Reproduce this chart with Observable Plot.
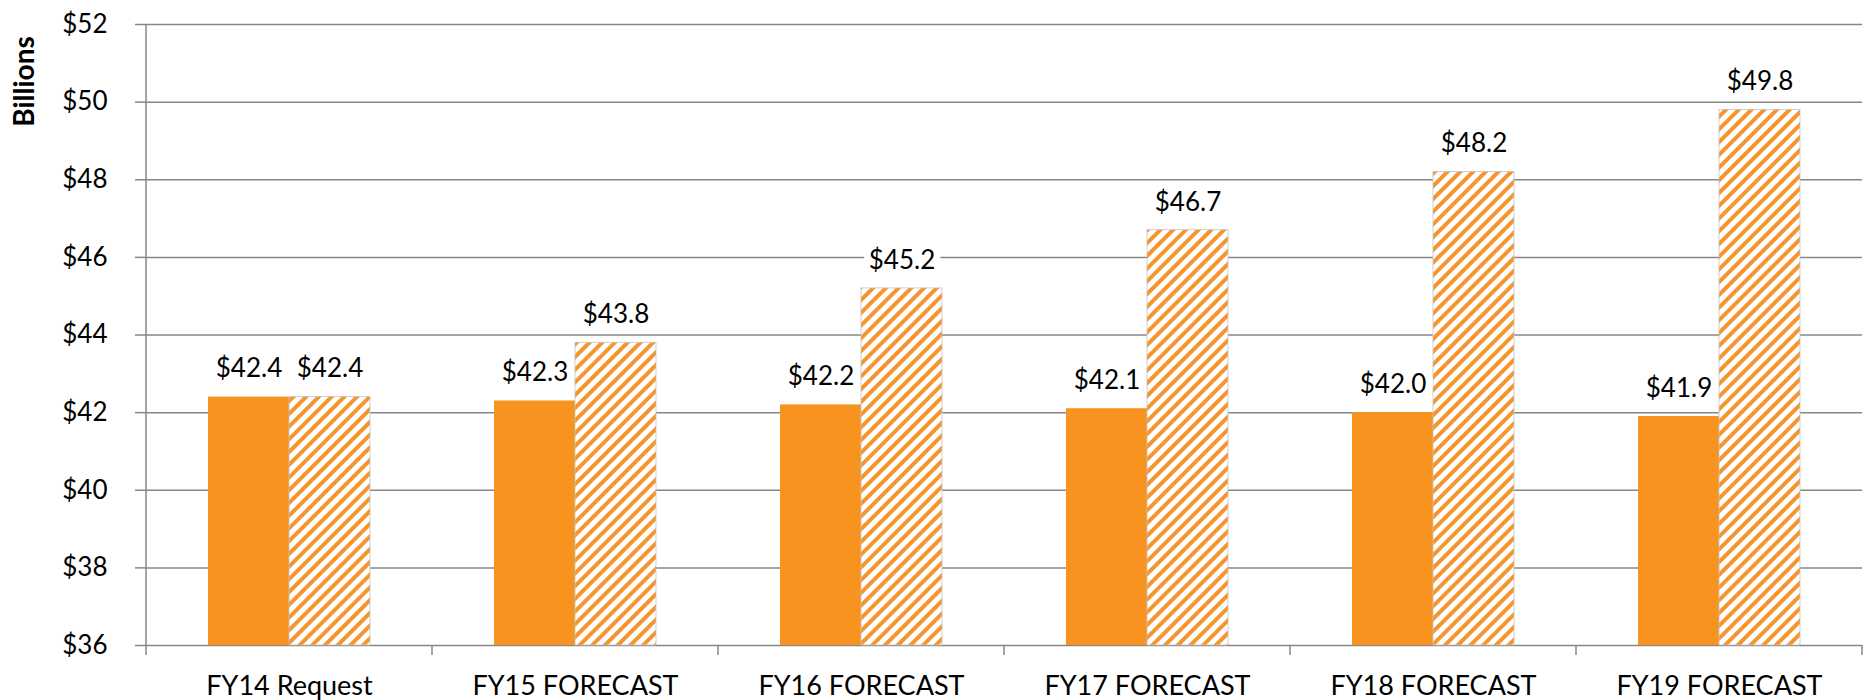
<!DOCTYPE html>
<html><head><meta charset="utf-8">
<script src="https://cdn.jsdelivr.net/npm/d3@7"></script>
<script src="https://cdn.jsdelivr.net/npm/@observablehq/plot@0.6"></script>
<style>
  html,body{margin:0;padding:0;background:#fff;}
  #chart svg{font-family:Lato,"Open Sans",sans-serif;display:block;}
</style>
</head><body><div id="chart"></div>
<script>
const categories = ["FY14 Request","FY15 FORECAST","FY16 FORECAST","FY17 FORECAST","FY18 FORECAST","FY19 FORECAST"];
const flatBudget = [42.4, 42.3, 42.2, 42.1, 42.0, 41.9];
const growthBudget = [42.4, 43.8, 45.2, 46.7, 48.2, 49.8];
const yTicks = [36, 38, 40, 42, 44, 46, 48, 50, 52];
const yAxisLabel = "Billions";

const flatRows = categories.map((c, i) => ({category: c, value: flatBudget[i]}));
const growthRows = categories.map((c, i) => ({category: c, value: growthBudget[i]}));
const baseline = yTicks[0];

const ORANGE = "#F7931E";
const STRIPE = "#F5952F";
const GRID = "#878787";
const fmt = v => "$" + v.toFixed(1);

const defsMark = () => {
  const d = d3.create("svg:defs");
  const p = d.append("pattern").attr("id", "hatch").attr("patternUnits", "userSpaceOnUse")
    .attr("width", 9).attr("height", 9).attr("patternTransform", "rotate(45)");
  p.append("rect").attr("width", 9).attr("height", 9).attr("fill", "white");
  p.append("rect").attr("width", 4).attr("height", 9).attr("fill", STRIPE);

  const f = d.append("filter").attr("id", "bevel").attr("x", "-5%").attr("y", "-5%").attr("width", "110%").attr("height", "110%");
  f.append("feOffset").attr("in", "SourceAlpha").attr("dy", 6).attr("result", "down");
  f.append("feComposite").attr("in", "SourceAlpha").attr("in2", "down").attr("operator", "out").attr("result", "top");
  f.append("feFlood").attr("flood-color", "#FDB44E").attr("result", "c1");
  f.append("feComposite").attr("in", "c1").attr("in2", "top").attr("operator", "in").attr("result", "topc");
  f.append("feOffset").attr("in", "SourceAlpha").attr("dx", -4).attr("result", "left");
  f.append("feComposite").attr("in", "SourceAlpha").attr("in2", "left").attr("operator", "out").attr("result", "right");
  f.append("feFlood").attr("flood-color", "#D7761C").attr("result", "c2");
  f.append("feComposite").attr("in", "c2").attr("in2", "right").attr("operator", "in").attr("result", "rightc");
  const m = f.append("feMerge").attr("result", "merged");
  m.append("feMergeNode").attr("in", "SourceGraphic");
  m.append("feMergeNode").attr("in", "rightc");
  m.append("feMergeNode").attr("in", "topc");
  f.append("feDropShadow").attr("in", "merged").attr("dx", 2).attr("dy", 2).attr("stdDeviation", 1.5)
    .attr("flood-color", "#000").attr("flood-opacity", 0.3);

  const s = d.append("filter").attr("id", "shadow").attr("x", "-5%").attr("y", "-5%").attr("width", "110%").attr("height", "110%");
  s.append("feDropShadow").attr("dx", 2).attr("dy", 2).attr("stdDeviation", 1.5)
    .attr("flood-color", "#000").attr("flood-opacity", 0.3);
  return d.node();
};

const boundaryMark = (index, scales, values, dims) => {
  const x = scales.x;
  const bw = x.bandwidth ? x.bandwidth() : 0;
  const dom = x.domain();
  const xs = dom.map(d => x(d)).concat([x(dom[dom.length - 1]) + bw]);
  const y0 = dims.height - dims.marginBottom;
  const g = d3.create("svg:g").attr("stroke", GRID).attr("stroke-width", 1.5);
  g.selectAll("line.b").data(xs).join("line")
    .attr("x1", d => d).attr("x2", d => d).attr("y1", y0).attr("y2", y0 + 10);
  g.append("line").attr("x1", xs[0]).attr("x2", xs[0]).attr("y1", dims.marginTop).attr("y2", y0);
  return g.node();
};

const chart = Plot.plot({
  width: 1864,
  height: 700,
  marginLeft: 145,
  marginRight: 2,
  marginTop: 24,
  marginBottom: 55,
  x: {domain: categories, padding: 0, label: null},
  y: {domain: [yTicks[0], yTicks[yTicks.length - 1]], label: null},
  marks: [
    defsMark,
    Plot.ruleY(yTicks, {stroke: GRID, strokeWidth: 1.5}),
    Plot.axisY({ticks: yTicks, tickFormat: d => "$" + d, tickSize: 10, tickPadding: 28, fontSize: 26,
      stroke: GRID, strokeWidth: 1.5, fill: "black", label: null}),
    Plot.axisX({tickSize: 0, tickPadding: 30, fontSize: 27, fill: "black", label: null}),
    boundaryMark,
    Plot.barY(flatRows, {x: "category", y1: d => baseline, y2: "value", fill: ORANGE,
      insetLeft: 62, insetRight: 143, ariaLabel: "flat-bars"}),
    Plot.barY(growthRows, {x: "category", y1: d => baseline, y2: "value", fill: "url(#hatch)",
      stroke: "#c4c4c4", strokeWidth: 0.8, insetLeft: 143, insetRight: 62, ariaLabel: "growth-bars"}),
    Plot.text(flatRows, {x: "category", y: "value", text: d => fmt(d.value), dx: -40.5, dy: -28,
      fontSize: 26, fill: "black", stroke: "white", strokeWidth: 14, paintOrder: "stroke"}),
    Plot.text(growthRows, {x: "category", y: "value", text: d => fmt(d.value), dx: 40.5, dy: -28,
      fontSize: 26, fill: "black", stroke: "white", strokeWidth: 14, paintOrder: "stroke"}),
    Plot.text([yAxisLabel], {frameAnchor: "top-left", text: d => d, rotate: -90, dx: -131, dy: 57,
      fontSize: 28, fontWeight: "bold", fill: "black", textAnchor: "middle"})
  ]
});

d3.select(chart).selectAll('g[aria-label="flat-bars"]').attr("filter", "url(#bevel)");
d3.select(chart).selectAll('g[aria-label="growth-bars"]').attr("filter", "url(#shadow)");
document.getElementById("chart").append(chart);
</script>
</body></html>
